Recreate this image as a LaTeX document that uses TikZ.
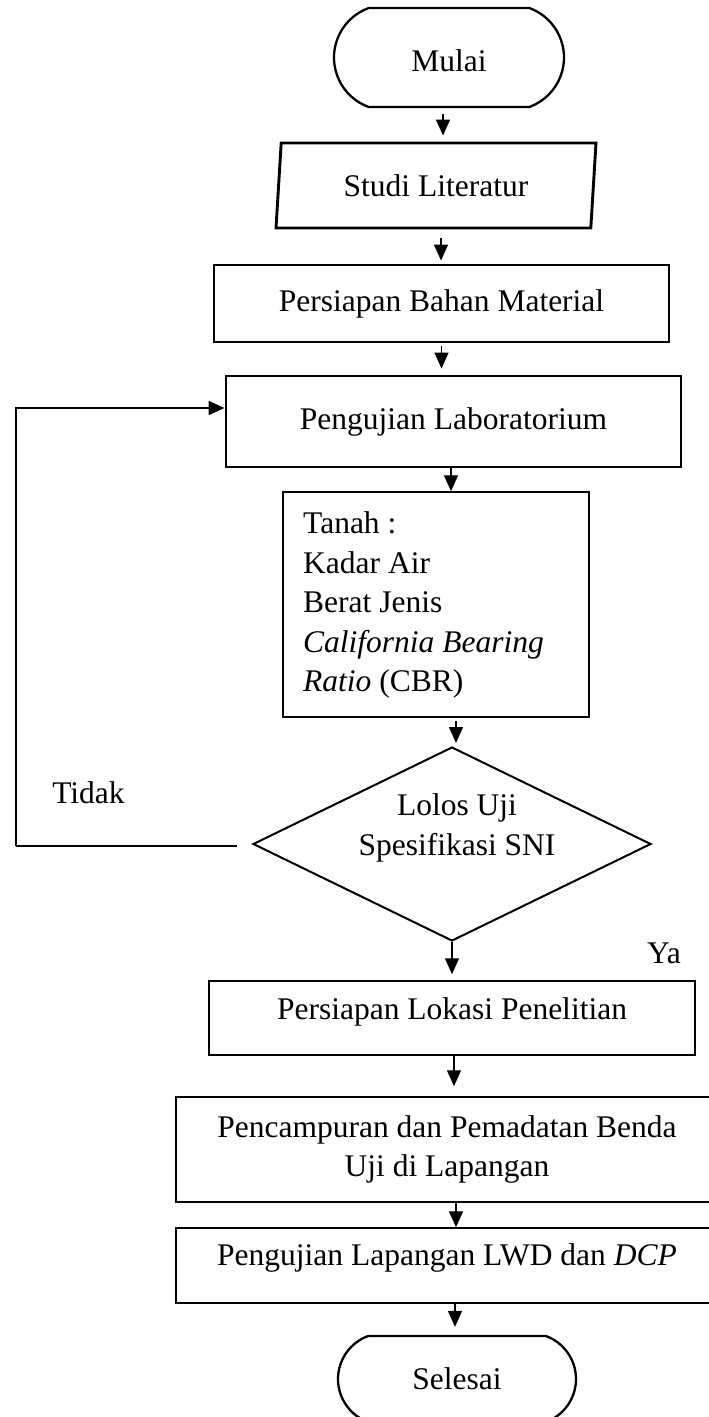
\documentclass[tikz,border=0pt]{standalone}
\usepackage{fontspec}
\setmainfont{Liberation Serif}
\usetikzlibrary{shapes.geometric,shapes.misc,arrows.meta}
\begin{document}
\begin{tikzpicture}[x=1pt,y=-1pt,
  font=\fontsize{31.5}{39.5}\selectfont,
  box/.style={draw, line width=1.5pt, rectangle, inner sep=0pt, align=center},
  heavy/.style={line width=2.9pt},
  term/.style={draw, line width=2.3pt, rounded rectangle, rounded rectangle arc length=140, inner sep=0pt},
  arr/.style={line width=1.4pt, -{Triangle[length=16pt,width=14pt]}},
  fb/.style={line width=1.2pt},
  txt/.style={inner sep=0pt, align=center}]
\useasboundingbox (0,0) rectangle (709,1417);
\clip (0,0) rectangle (709,1417);

% nodes
\node[term, minimum width=230pt, minimum height=99pt] (mulai) at (449,57.5) {};
\node[txt] (mulaitxt) at (449,61) {Mulai};
\node[draw, heavy, trapezium, trapezium left angle=76.8, trapezium right angle=103.2,
      trapezium stretches body, minimum width=320pt, minimum height=85pt, inner sep=0pt]
      (studi) at (436,185.5) {Studi Literatur};
\node[box, heavy, minimum width=455pt, minimum height=77pt] (bahan) at (441.5,303.5) {Persiapan Bahan Material};
\node[box, heavy, minimum width=455pt, minimum height=91pt] (lab) at (453.5,421.5) {Pengujian Laboratorium};
\node[box, minimum width=306pt, minimum height=225pt] (tanah) at (436,604.5) {};
\node[anchor=west, align=left, inner sep=0pt] (tanahtxt) at (303,605)
  {Tanah :\\Kadar Air\\Berat Jenis\\\textit{California Bearing}\\\textit{Ratio} (CBR)};
\node[draw, diamond, line width=2pt, minimum width=398pt, minimum height=194pt, inner sep=0pt] (uji) at (452,844) {};
\node[txt] (ujitxt) at (457,828) {Lolos Uji\\Spesifikasi SNI};
\node[box, minimum width=486pt, minimum height=74pt] (lokasi) at (452,1018) {};
\node[txt] (lokasitxt) at (452,1012) {Persiapan Lokasi Penelitian};
\node[box, minimum width=542pt, minimum height=105pt] (campur) at (447,1149.5)
  {Pencampuran dan Pemadatan Benda\\Uji di Lapangan};
\node[box, minimum width=542pt, minimum height=75pt] (lapangan) at (447,1265.5) {};
\node[txt] (lapangantxt) at (447,1258) {Pengujian Lapangan LWD dan \textit{DCP}};
\node[term, minimum width=238pt, minimum height=86pt] (selesai) at (457,1379) {Selesai};

\node[txt] (tidak) at (88.5,793) {Tidak};
\node[txt] (ya) at (664,953) {Ya};

% connectors
\draw[arr, shorten <=6pt, shorten >=6pt] ([xshift=-6pt]mulai.south) -- ([xshift=-6pt]mulai.south |- studi.north);
\draw[arr, shorten <=9pt, shorten >=3pt] ([xshift=5pt]studi.south) -- ([xshift=5pt]studi.south |- bahan.north);
\draw[arr, shorten <=3pt, shorten >=6pt] (bahan.south) -- (bahan.south |- lab.north);
\draw[arr] ([xshift=-2.5pt]lab.south) -- ([xshift=-2.5pt]lab.south |- tanah.north);
\draw[arr, shorten <=3pt, shorten >=3pt] ([xshift=20pt]tanah.south) -- ([xshift=20pt]tanah.south |- uji.north);
\draw[arr, shorten >=6pt] (uji.south) -- (uji.south |- lokasi.north);
\draw[arr, shorten >=10pt] ([xshift=2pt]lokasi.south) -- ([xshift=2pt]lokasi.south |- campur.north);
\draw[arr] ([xshift=9pt]campur.south) -- ([xshift=9pt]campur.south |- lapangan.north);
\draw[arr, shorten >=8pt] ([xshift=8pt]lapangan.south) -- ([xshift=8pt]lapangan.south |- selesai.north);

\coordinate (fbcorner) at (16,846);
\draw[fb] ([xshift=-15pt,yshift=-2pt]uji.west) -- (fbcorner);
\draw[fb, arr] (fbcorner) |- ([yshift=13.5pt]lab.west);
\end{tikzpicture}
\end{document}
